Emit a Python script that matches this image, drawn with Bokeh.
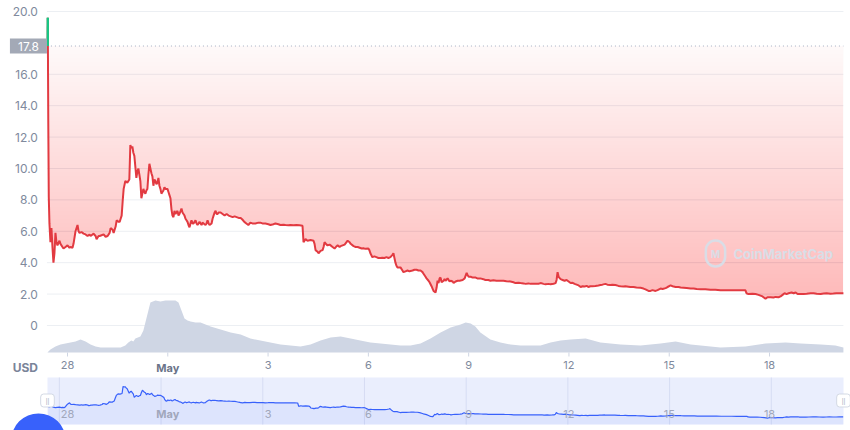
import numpy as np
from bokeh.plotting import figure
from bokeh.models import Range1d, Label, ColumnDataSource
from bokeh.core.properties import value
from bokeh.embed import file_html
from bokeh.resources import INLINE

# ---------------- data ----------------
tick_days = [0, 3, 6, 9, 12, 15, 18, 21]
tick_labels = ["28", "May", "3", "6", "9", "12", "15", "18"]
y_ticks = [0, 2, 4, 6, 8, 10, 12, 14, 16, 20]
y_tick_labels = ["0", "2.0", "4.0", "6.0", "8.0", "10.0", "12.0", "14.0", "16.0", "20.0"]
baseline = 17.8
unit_label = "USD"
bold_label = "May"

price_day = [
    -0.595, -0.59, -0.575, -0.56, -0.54, -0.51, -0.48, -0.45, -0.42, -0.39, -0.36,
    -0.33, -0.30, -0.24, -0.21, -0.15, -0.12, -0.06, 0.00, 0.06, 0.09,
    0.15, 0.18, 0.24, 0.30, 0.33, 0.36, 0.42, 0.48, 0.54, 0.60,
    0.66, 0.69, 0.75, 0.78, 0.84, 0.87, 0.93, 0.96, 1.02, 1.08,
    1.14, 1.20, 1.26, 1.29, 1.35, 1.38, 1.44, 1.47, 1.53, 1.56,
    1.59, 1.62, 1.65, 1.68, 1.73, 1.79, 1.85, 1.88, 1.91, 1.94,
    1.97, 2.00, 2.03, 2.06, 2.09, 2.12, 2.15, 2.18, 2.21, 2.24,
    2.27, 2.30, 2.33, 2.36, 2.39, 2.42, 2.45, 2.48, 2.51, 2.54,
    2.57, 2.60, 2.63, 2.66, 2.69, 2.72, 2.75, 2.78, 2.81, 2.84,
    2.87, 2.90, 2.93, 2.99, 3.02, 3.05, 3.08, 3.11, 3.14, 3.17,
    3.20, 3.23, 3.26, 3.29, 3.32, 3.35, 3.41, 3.44, 3.47, 3.50,
    3.53, 3.56, 3.59, 3.62, 3.65, 3.68, 3.71, 3.74, 3.77, 3.80,
    3.83, 3.86, 3.89, 3.92, 3.95, 3.98, 4.01, 4.04, 4.07, 4.13,
    4.16, 4.19, 4.22, 4.25, 4.31, 4.34, 4.37, 4.40, 4.43, 4.46,
    4.49, 4.52, 4.58, 4.64, 4.70, 4.76, 4.82, 4.88, 4.94, 5.00,
    5.06, 5.12, 5.18, 5.23, 5.29, 5.35, 5.41, 5.47, 5.53, 5.62,
    5.71, 5.77, 5.83, 5.92, 6.01, 6.07, 6.16, 6.22, 6.31, 6.37,
    6.46, 6.52, 6.61, 6.67, 6.76, 6.85, 6.94, 7.03, 7.06, 7.12,
    7.18, 7.27, 7.36, 7.39, 7.42, 7.48, 7.51, 7.57, 7.63, 7.66,
    7.69, 7.75, 7.78, 7.84, 7.87, 7.93, 7.99, 8.05, 8.08, 8.14,
    8.17, 8.23, 8.29, 8.38, 8.44, 8.47, 8.53, 8.56, 8.62, 8.68,
    8.74, 8.80, 8.85, 8.91, 9.00, 9.03, 9.06, 9.12, 9.18, 9.24,
    9.30, 9.36, 9.42, 9.48, 9.54, 9.60, 9.66, 9.72, 9.75, 9.78,
    9.81, 9.84, 9.87, 9.93, 9.96, 10.02, 10.05, 10.11, 10.17, 10.23,
    10.32, 10.38, 10.44, 10.50, 10.56, 10.62, 10.65, 10.71, 10.74, 10.80,
    10.83, 10.89, 10.92, 10.95, 11.01, 11.04, 11.07, 11.10, 11.13, 11.16,
    11.19, 11.25, 11.28, 11.31, 11.37, 11.43, 11.46, 11.52, 11.55, 11.61,
    11.67, 11.73, 11.82, 11.88, 11.94, 11.97, 12.00, 12.06, 12.12, 12.21,
    12.26, 12.35, 12.44, 12.50, 12.59, 12.65, 12.74, 12.83, 12.95, 13.04,
    13.13, 13.25, 13.34, 13.40, 13.49, 13.55, 13.64, 13.70, 13.79, 13.85,
    13.94, 14.00, 14.09, 14.15, 14.24, 14.30, 14.39, 14.45, 14.54, 14.60,
    14.63, 14.66, 14.69, 14.75, 14.81, 14.87, 14.93, 14.99, 15.05, 15.11,
    15.17, 15.23, 15.29, 15.35, 15.41, 15.47, 15.53, 15.58, 15.64, 15.70,
    15.79, 15.88, 15.94, 16.00, 16.09, 16.15, 16.24, 16.30, 16.39, 16.48,
    16.54, 16.63, 16.69, 16.78, 16.84, 16.93, 17.02, 17.14, 17.23, 17.29,
    17.38, 17.44, 17.50, 17.59, 17.65, 17.74, 17.80, 17.89, 17.95, 18.04,
    18.10, 18.19, 18.28, 18.34, 18.43, 18.52, 18.64, 18.73, 18.82, 18.94,
    19.08, 19.23, 19.38, 19.53, 19.68, 19.83, 19.98, 20.13, 20.28, 20.31,
    20.37, 20.49, 20.58, 20.67, 20.79, 20.85, 20.88, 20.94, 21.03, 21.12,
    21.18, 21.27, 21.33, 21.39, 21.45, 21.51, 21.57, 21.66, 21.72, 21.78,
    21.84, 21.93, 22.02, 22.11, 22.23, 22.32, 22.41, 22.53, 22.62, 22.71,
    22.82, 22.91, 23.00, 23.12, 23.21,
]
price_usd = [
    17.8, 19.6, 13.0, 8.2, 6.5, 5.3, 6.2, 5.0, 4.0, 4.6, 5.9,
    5.3, 5.1, 5.4, 5.2, 5.0, 4.9, 5.0, 5.1, 4.95, 5.0,
    4.95, 5.2, 6.0, 6.4, 6.0, 5.9, 5.95, 5.85, 5.8, 5.7,
    5.8, 5.7, 5.8, 5.85, 5.7, 5.5, 5.7, 5.7, 5.75, 5.8,
    5.65, 5.7, 5.9, 6.2, 6.1, 5.9, 6.3, 6.7, 6.6, 6.6,
    6.8, 7.0, 7.9, 8.7, 9.2, 9.1, 9.3, 11.5, 11.3, 11.4,
    11.0, 10.8, 10.1, 9.4, 9.8, 10.0, 9.6, 9.2, 8.1, 8.4,
    8.7, 8.5, 8.4, 8.6, 8.7, 9.6, 10.3, 10.0, 9.7, 9.5,
    8.9, 9.3, 9.2, 9.0, 9.1, 9.4, 8.9, 8.7, 8.4, 8.5,
    8.6, 8.8, 8.7, 8.7, 8.5, 8.3, 8.1, 7.4, 7.0, 6.9,
    7.3, 7.1, 7.2, 7.3, 7.0, 7.1, 7.45, 7.2, 7.1, 7.0,
    6.8, 6.7, 6.6, 6.4, 6.25, 6.5, 6.7, 6.5, 6.5, 6.6,
    6.7, 6.5, 6.4, 6.5, 6.6, 6.5, 6.4, 6.55, 6.5, 6.4,
    6.5, 6.7, 6.5, 6.4, 6.5, 6.8, 7.0, 7.2, 7.3, 7.1,
    7.1, 7.2, 7.2, 7.1, 7.0, 7.1, 7.0, 6.95, 6.9, 6.95,
    6.9, 6.85, 6.85, 6.75, 6.6, 6.5, 6.4, 6.55, 6.5, 6.5,
    6.55, 6.55, 6.5, 6.5, 6.45, 6.4, 6.45, 6.5, 6.45, 6.4,
    6.42, 6.4, 6.38, 6.4, 6.38, 6.4, 6.38, 6.35, 5.3, 5.5,
    5.4, 5.45, 5.4, 5.2, 4.8, 4.7, 4.6, 4.75, 4.8, 5.0,
    5.3, 5.15, 5.1, 5.15, 5.1, 5.0, 4.9, 5.05, 5.1, 5.0,
    5.05, 5.1, 5.15, 5.4, 5.3, 5.2, 5.1, 5.05, 5.0, 5.0,
    4.95, 4.9, 4.92, 4.88, 4.9, 4.8, 4.6, 4.35, 4.4, 4.35,
    4.3, 4.3, 4.32, 4.3, 4.35, 4.3, 4.35, 4.5, 4.6, 4.3,
    4.0, 3.8, 3.7, 3.7, 3.7, 3.5, 3.4, 3.45, 3.5, 3.45,
    3.5, 3.55, 3.55, 3.5, 3.5, 3.4, 3.3, 3.1, 3.0, 2.85,
    2.75, 2.5, 2.35, 2.2, 2.1, 2.4, 2.85, 2.7, 3.0, 3.05,
    2.75, 2.85, 2.95, 2.85, 3.0, 2.8, 2.85, 2.8, 2.7, 2.8,
    2.85, 2.85, 2.9, 3.0, 3.35, 3.2, 3.1, 3.1, 3.05, 3.05,
    3.0, 3.0, 2.95, 2.9, 2.9, 2.85, 2.88, 2.85, 2.85, 2.85,
    2.82, 2.8, 2.75, 2.7, 2.72, 2.7, 2.68, 2.65, 2.68, 2.65,
    2.66, 2.65, 2.66, 2.7, 2.65, 2.62, 2.65, 2.63, 2.66, 2.7,
    2.9, 3.4, 3.1, 2.95, 2.9, 2.85, 2.9, 2.8, 2.7, 2.72,
    2.65, 2.6, 2.55, 2.45, 2.5, 2.48, 2.52, 2.45, 2.5, 2.5,
    2.52, 2.55, 2.58, 2.6, 2.65, 2.6, 2.58, 2.6, 2.58, 2.52,
    2.5, 2.48, 2.5, 2.47, 2.45, 2.45, 2.42, 2.4, 2.35, 2.3,
    2.2, 2.2, 2.25, 2.2, 2.25, 2.35, 2.32, 2.38, 2.45, 2.55,
    2.5, 2.45, 2.45, 2.42, 2.4, 2.38, 2.35, 2.36, 2.32, 2.3,
    2.3, 2.28, 2.28, 2.25, 2.25, 2.25, 2.24, 2.25, 2.24, 2.05,
    2.0, 2.02, 2.0, 1.95, 1.85, 1.75, 1.7, 1.8, 1.8, 1.78,
    1.82, 1.8, 1.85, 1.95, 2.05, 2.0, 2.05, 2.1, 2.05, 2.1,
    2.0, 2.0, 2.0, 2.02, 2.05, 2.05, 2.02, 2.0, 2.03, 2.05,
    2.02, 2.03, 2.05, 2.05, 2.05,
]

vol_day = [
    -0.60, -0.51, -0.36, -0.21, -0.06, 0.09, 0.24, 0.39, 0.54, 0.69,
    0.84, 0.99, 1.14, 1.29, 1.44, 1.59, 1.73, 1.82, 1.91, 1.97,
    2.03, 2.18, 2.27, 2.33, 2.42, 2.48, 2.63, 2.78, 2.93, 3.08,
    3.23, 3.32, 3.41, 3.50, 3.59, 3.68, 3.83, 3.98, 4.13, 4.28,
    4.58, 4.88, 5.18, 5.47, 5.77, 6.07, 6.37, 6.67, 6.97, 7.27,
    7.57, 7.87, 8.17, 8.47, 8.76, 9.06, 9.36, 9.66, 9.96, 10.26,
    10.56, 10.86, 11.16, 11.46, 11.76, 11.91, 12.06, 12.20, 12.35, 12.65,
    12.95, 13.25, 13.55, 13.85, 14.15, 14.45, 14.75, 15.05, 15.50, 15.94,
    16.54, 17.14, 17.74, 18.19, 18.64, 18.94, 19.53, 20.28, 20.88, 21.48,
    21.93, 22.53, 22.97, 23.21,
]
vol_musd = [
    0, 6, 12, 16, 18, 20, 22, 26, 22, 16,
    12, 10, 10, 10, 10, 10, 14, 20, 24, 22,
    28, 32, 44, 60, 84, 100, 104, 102, 104, 104,
    104, 100, 84, 68, 64, 62, 60, 60, 56, 52,
    46, 40, 36, 28, 24, 20, 16, 14, 12, 16,
    24, 30, 32, 28, 24, 20, 18, 16, 14, 14,
    18, 28, 40, 50, 56, 60, 58, 52, 40, 26,
    20, 16, 14, 14, 14, 20, 24, 26, 28, 20,
    16, 14, 18, 22, 16, 14, 10, 12, 18, 20,
    18, 16, 14, 10,
]
assert len(price_day) == len(price_usd)
assert len(vol_day) == len(vol_musd)

# ---------------- chart windows (ranges) ----------------
main_start, main_end = -0.615, 23.21      # visible period of the main chart
nav_start, nav_end = -0.35, 23.13         # period shown by the navigator
nav_lo, nav_hi = -0.3, 14.25              # navigator price window

# ---------------- styles ----------------
RED = "#e23a41"
FILL_RED = "#d4343a"
GREEN = "#16c784"
BLUE = "#3861fb"
AXIS_TXT = "#808a9d"
WM = "#d9dde6"
FONT = "Inter"
W, H = 850, 430

xr = Range1d(-2.004, 23.422)
p = figure(width=W, height=H, output_backend="svg", toolbar_location=None,
           x_range=xr, y_range=Range1d(-6.69, 20.70),
           x_axis_type=None, y_axis_type=None,
           min_border_left=0, min_border_right=0, min_border_top=0, min_border_bottom=0)
p.outline_line_color = None
p.background_fill_color = "white"
p.border_fill_color = "white"
p.grid.visible = False
p.extra_y_ranges = {"vol": Range1d(-156, 704), "navy": Range1d(-2.157, 130.97)}
p.extra_x_ranges = {"navx": Range1d(-1.736, 23.336)}
day_per_px = (xr.end - xr.start) / W

# horizontal grid lines and y tick labels
p.segment(x0=[main_start] * len(y_ticks), x1=[main_end] * len(y_ticks), y0=y_ticks, y1=y_ticks,
          line_color="#eceff3", line_width=1)
p.text(x=[main_start] * len(y_ticks), y=y_ticks, text=y_tick_labels, x_offset=-9,
       text_align="right", text_baseline="middle", text_font=value(FONT),
       text_font_size="12px", text_color=AXIS_TXT)

# volume area
p.varea(x=vol_day, y1=np.zeros(len(vol_musd)), y2=vol_musd, y_range_name="vol",
        fill_color="#cfd6e4", fill_alpha=1.0)

# gradient fill between price and baseline (overlapping translucent layers)
pr = np.array(price_usd)
p.varea(x=price_day, y1=np.minimum(pr, baseline), y2=np.full(len(pr), baseline),
        fill_color=FILL_RED, fill_alpha=0.03)
for lvl in np.arange(baseline - 0.25, 0, -0.25):
    p.varea(x=price_day, y1=np.minimum(pr, lvl), y2=np.full(len(pr), lvl),
            fill_color=FILL_RED, fill_alpha=0.0052)

# dotted baseline
p.segment(x0=[main_start], x1=[main_end], y0=[baseline], y1=[baseline],
          line_color="#a6b0c3", line_dash="1 3", line_width=1)

# watermark (behind the line)
p.add_layout(Label(x=733, x_units="screen", y=177, y_units="screen", text="CoinMarketCap",
                   text_align="left", text_baseline="middle", text_font=FONT,
                   text_font_size="13px", text_font_style="bold", text_color=WM))
p.add_layout(Label(x=715, x_units="screen", y=177, y_units="screen", text="M",
                   text_align="center", text_baseline="middle", text_font=FONT,
                   text_font_size="10px", text_font_style="bold", text_color=WM,
                   border_line_color=WM, border_line_width=2.5, border_radius=12,
                   padding=(5, 7)))

# price line (red) and its part above the baseline (green)
p.line(price_day, price_usd, line_color=RED, line_width=2)
gx, gy = [], []
for xa, ya, xb, yb in zip(price_day[:-1], price_usd[:-1], price_day[1:], price_usd[1:]):
    if ya < baseline and yb < baseline:
        continue
    sx0, sy0, sx1, sy1 = xa, ya, xb, yb
    if ya < baseline:
        t = (baseline - ya) / (yb - ya)
        sx0, sy0 = xa + t * (xb - xa), baseline
    if yb < baseline:
        t = (baseline - ya) / (yb - ya)
        sx1, sy1 = xa + t * (xb - xa), baseline
    gx.append([sx0, sx1]); gy.append([sy0, sy1])
p.multi_line(gx, gy, line_color=GREEN, line_width=2)

# baseline tag (grey box left of the plot with the opening price)
tag_x = main_start - 18.5 * day_per_px
p.rect(x=[tag_x], y=[baseline], width=37, height=15, width_units="screen",
       height_units="screen", fill_color="#a3a9b6", line_color=None)
p.text(x=[tag_x], y=[baseline], text=[f"{baseline:.1f}"], text_align="center",
       text_baseline="middle", text_font=value(FONT), text_font_size="12px",
       text_color="white")

# x axis: tick marks + labels
p.ray(x=tick_days, y=[0] * len(tick_days), y_range_name="vol", length=4,
      length_units="screen", angle=-np.pi / 2, line_color="#cfd6e4", line_width=1)
xsrc = ColumnDataSource(dict(
    x=tick_days, y=[0] * len(tick_days), t=tick_labels,
    s=["bold" if l == bold_label else "normal" for l in tick_labels],
    c=["#6b7489" if l == bold_label else AXIS_TXT for l in tick_labels]))
p.text(x="x", y="y", text="t", source=xsrc, y_range_name="vol", y_offset=8,
       text_align="center", text_baseline="top", text_font=value(FONT),
       text_font_size="11px", text_font_style="s", text_color="c")
p.text(x=[main_start], y=[0], text=[unit_label], y_range_name="vol", x_offset=-9, y_offset=7,
       text_align="right", text_baseline="top", text_font=value(FONT),
       text_font_size="12px", text_font_style="bold", text_color="#7a8499")

# ---------------- navigator ----------------
p.quad(left=[nav_start], right=[nav_end], bottom=[nav_lo], top=[nav_hi],
       x_range_name="navx", y_range_name="navy", fill_color="#eaeefd", line_color=None)
p.segment(x0=tick_days, x1=tick_days, y0=[nav_lo] * len(tick_days), y1=[nav_hi] * len(tick_days),
          x_range_name="navx", y_range_name="navy", line_color="#d6dcf3", line_width=1)
nd = np.array(price_day)
keep = (nd >= nav_start) & (nd <= nav_end)
nav_x = nd[keep]
nav_y = pr[keep]
p.varea(x=nav_x, y1=np.full(len(nav_x), nav_lo), y2=nav_y, x_range_name="navx",
        y_range_name="navy", fill_color=BLUE, fill_alpha=0.07)
p.line(nav_x, nav_y, x_range_name="navx", y_range_name="navy", line_color=BLUE, line_width=1.2)
nsrc = ColumnDataSource(dict(
    x=tick_days, y=[3.1] * len(tick_days), t=tick_labels,
    s=["bold" if l == bold_label else "normal" for l in tick_labels]))
p.text(x="x", y="y", text="t", source=nsrc, y_range_name="navy", text_align="center",
       text_baseline="middle", text_font=value(FONT), text_font_size="11px",
       text_font_style="s", text_color="#a1a7bb")
for hx in (47, 843):
    p.add_layout(Label(x=hx, x_units="screen", y=30, y_units="screen", text="||",
                       text_align="center", text_baseline="middle", text_font_size="7px",
                       text_color="#a6b0c3", background_fill_color="white",
                       border_line_color="#d3d9e4", border_line_width=1, border_radius=3,
                       padding=(5, 3)))

# round blue button at the bottom-left corner of the page
p.add_layout(Label(x=38, x_units="screen", y=-12, y_units="screen", text=" ",
                   text_align="center", text_baseline="middle", text_font_size="2px",
                   background_fill_color=BLUE, border_radius=28, padding=(27, 28)))

open("out.html", "w").write(file_html(p, INLINE))
